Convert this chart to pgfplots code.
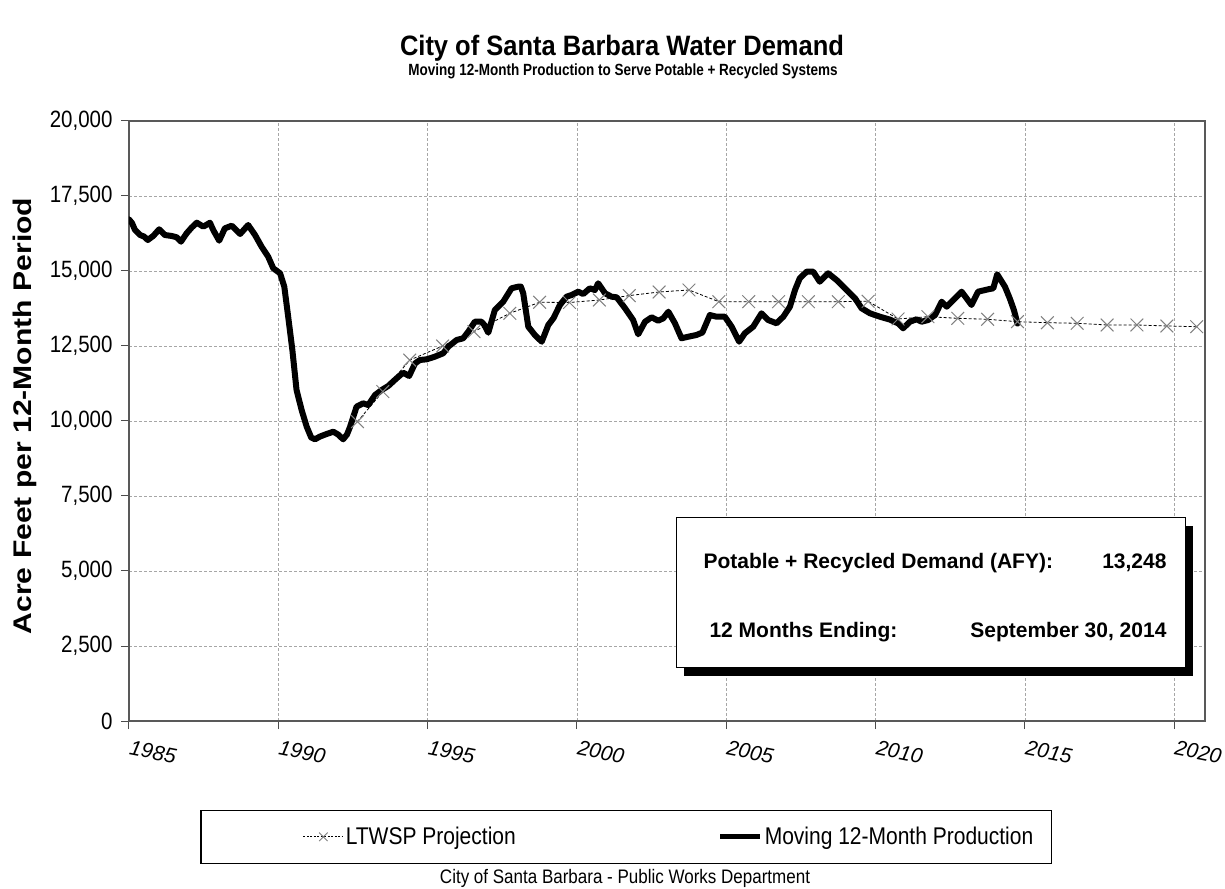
\documentclass[border=0pt]{standalone}
\usepackage{fontspec}
\setmainfont{Liberation Sans}
\usepackage{pgfplots}
\pgfplotsset{compat=1.18}

% LTWSP projection (decimal year, AFY)
\pgfplotstableread{
yr val
1992.65 9980
1993.50 10980
1994.40 12030
1995.50 12500
1996.55 12980
1997.75 13590
1998.75 13957
1999.75 13950
2000.75 14033
2001.75 14180
2002.75 14300
2003.75 14367
2004.75 13977
2005.75 13977
2006.75 13977
2007.75 13977
2008.75 13977
2009.75 13990
2010.75 13400
2011.75 13477
2012.75 13423
2013.75 13390
2014.75 13310
2015.75 13277
2016.75 13257
2017.75 13200
2018.75 13200
2019.75 13167
2020.75 13143
}\projection

% moving 12-month production
\pgfplotstableread{
yr val
1985.00 16720
1985.10 16600
1985.20 16370
1985.37 16200
1985.50 16150
1985.63 16033
1985.81 16167
1986.01 16390
1986.20 16200
1986.43 16167
1986.60 16123
1986.74 15977
1986.93 16257
1987.10 16450
1987.27 16610
1987.49 16477
1987.71 16610
1987.82 16367
1988.02 16010
1988.21 16423
1988.44 16510
1988.72 16233
1988.99 16533
1989.22 16200
1989.44 15810
1989.66 15477
1989.83 15090
1990.06 14923
1990.20 14477
1990.33 13477
1990.47 12367
1990.61 11033
1990.78 10367
1990.95 9810
1991.10 9450
1991.23 9390
1991.39 9480
1991.60 9560
1991.84 9643
1992.00 9550
1992.17 9390
1992.30 9550
1992.40 9800
1992.62 10477
1992.84 10590
1993.01 10533
1993.24 10867
1993.46 11033
1993.68 11167
1993.96 11423
1994.18 11610
1994.38 11500
1994.58 11923
1994.74 12033
1994.97 12057
1995.24 12143
1995.52 12257
1995.69 12477
1995.97 12700
1996.19 12757
1996.36 12977
1996.58 13310
1996.80 13310
1996.90 13200
1997.03 12943
1997.25 13700
1997.53 13977
1997.81 14423
1998.03 14477
1998.12 14480
1998.20 14257
1998.37 13143
1998.59 12867
1998.82 12643
1999.04 13200
1999.21 13423
1999.43 13867
1999.65 14143
1999.82 14200
2000.04 14310
2000.21 14233
2000.43 14423
2000.60 14367
2000.71 14590
2000.94 14257
2001.16 14143
2001.33 14123
2001.61 13757
2001.88 13367
2002.05 12890
2002.28 13310
2002.50 13457
2002.72 13343
2002.89 13423
2003.06 13643
2003.28 13257
2003.50 12757
2003.73 12810
2004.00 12867
2004.20 12950
2004.35 13300
2004.45 13533
2004.67 13477
2004.95 13477
2005.18 13143
2005.43 12643
2005.62 12923
2005.90 13143
2006.18 13590
2006.40 13367
2006.68 13257
2006.91 13477
2007.13 13810
2007.30 14367
2007.46 14757
2007.69 14977
2007.91 14977
2008.13 14643
2008.41 14923
2008.69 14700
2009.03 14367
2009.31 14090
2009.53 13757
2009.81 13590
2010.14 13477
2010.48 13380
2010.76 13250
2010.92 13090
2011.15 13310
2011.37 13390
2011.54 13310
2011.76 13367
2011.99 13533
2012.21 13977
2012.38 13810
2012.60 14033
2012.88 14310
2013.21 13867
2013.43 14310
2013.77 14390
2013.94 14423
2014.07 14890
2014.33 14477
2014.49 14090
2014.63 13700
2014.75 13248
}\production

\begin{document}
\begin{tikzpicture}
\path[use as bounding box] (-129pt,-167pt) rectangle (1096pt,721pt);
\begin{axis}[at={(0pt,0pt)}, anchor=south west,
  width=1076pt, height=600pt, scale only axis,
  xmin=1985, xmax=2021.03, ymin=0, ymax=20000,
  xtick={1985,1990,...,2020}, ytick={0,2500,...,20000},
  scaled ticks=false,
  /pgf/number format/assume math mode=true,
  xticklabel style={/pgf/number format/1000 sep={}, rotate=-11, anchor=north west,
    font=\fontsize{21}{25}\selectfont\itshape, xshift=1pt, yshift=-7pt},
  yticklabel style={/pgf/number format/1000 sep={,}, yscale=1.15, xshift=-5pt,
    font=\fontsize{20.5}{24}\selectfont},
  grid=major, grid style={gray!70, line width=0.7pt, dash pattern=on 3pt off 2pt},
  axis line style={draw=black!65, line width=1.6pt},
  tick style={draw=black!70, line width=1pt},
  tick align=outside, major tick length=8pt,
  xtick pos=bottom, ytick pos=left,
  legend columns=2,
  legend cell align=left,
  legend style={at={(0.462,-0.193)}, anchor=center, draw=black, line width=1.2pt,
    inner xsep=16pt, inner ysep=15pt,
    font=\fontsize{21}{25}\selectfont,
    /tikz/every even column/.append style={column sep=200pt}},
]
\addlegendimage{black, line width=0.8pt, dash pattern=on 2pt off 1.5pt, mark=x, mark size=6pt,
  mark options={solid, draw=gray, line width=0.9pt},
  legend image code/.code={\path (-86pt,0pt);
    \draw[mark repeat=2,mark phase=2] plot coordinates {(0pt,0pt) (20pt,0pt) (40pt,0pt)};}}
\addlegendentry{\scalebox{1}[1.15]{LTWSP Projection}}
\addlegendimage{black, line width=5pt,
  legend image code/.code={\draw plot coordinates {(0pt,0pt) (40pt,0pt)};}}
\addlegendentry{\scalebox{1}[1.15]{Moving 12-Month Production}}

\addplot[forget plot, black, line width=6pt, line join=round, line cap=round]
  table[x=yr, y=val] {\production};
\addplot[forget plot, black, line width=0.8pt, dash pattern=on 3pt off 2pt,
  mark=x, mark size=9pt, mark options={solid, draw=gray, line width=1pt}]
  table[x=yr, y=val] {\projection};
\end{axis}

% summary box with shadow
\fill[black] (555pt,45pt) rectangle (1064pt,195pt);
\draw[black, line width=1pt, fill=white] (547pt,53pt) rectangle (1056pt,203pt);
\node[anchor=west, font=\fontsize{21}{25}\selectfont\bfseries] at (571pt,158pt)
  {Potable + Recycled Demand (AFY):};
\node[anchor=east, font=\fontsize{21}{25}\selectfont\bfseries] at (1041pt,158pt) {13,248};
\node[anchor=west, font=\fontsize{21}{25}\selectfont\bfseries] at (577pt,89pt)
  {12 Months Ending:};
\node[anchor=east, font=\fontsize{21}{25}\selectfont\bfseries] at (1041pt,89pt)
  {September 30, 2014};

% titles and labels
\node[yscale=1.1, font=\fontsize{25.5}{30}\selectfont\bfseries] at (493pt,673pt)
  {City of Santa Barbara Water Demand};
\node[yscale=1.2, font=\fontsize{13.5}{16}\selectfont\bfseries] at (494pt,650pt)
  {Moving 12-Month Production to Serve Potable + Recycled Systems};
\node[rotate=90, xscale=1.18, font=\fontsize{25.5}{30}\selectfont\bfseries] at (-104pt,305pt)
  {Acre Feet per 12-Month Period};
\node[yscale=1.15, font=\fontsize{17}{20}\selectfont] at (496pt,-157pt)
  {City of Santa Barbara - Public Works Department};
\end{tikzpicture}
\end{document}
